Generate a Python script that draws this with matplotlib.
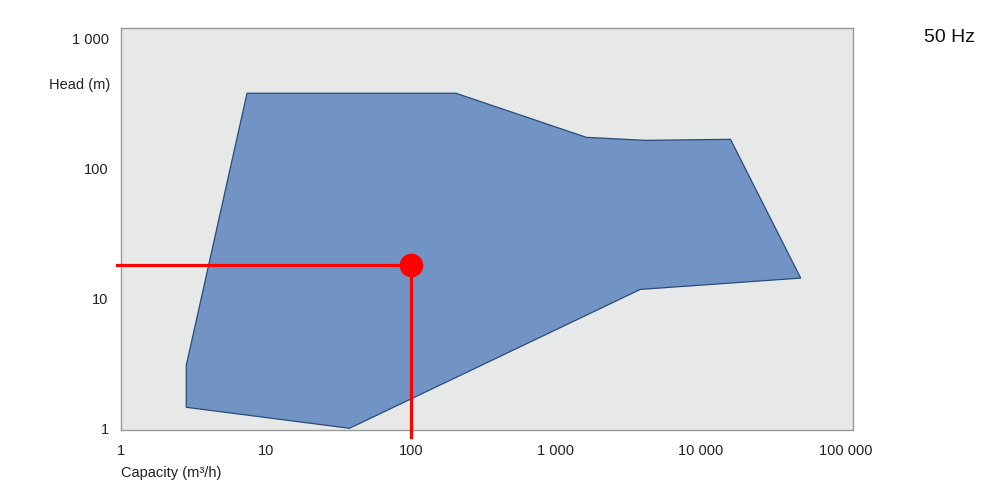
import matplotlib
matplotlib.use("Agg")
import matplotlib.pyplot as plt
from matplotlib.ticker import FixedLocator, NullLocator

# pump range envelope (capacity m3/h, head m)
cap = [7.4, 204, 1620, 4140, 16000, 48800, 3820, 37.7, 2.82, 2.82]
head = [378, 378, 173, 164, 167, 14.3, 11.7, 1.0, 1.45, 3.05]

# duty point
duty_q = 100
duty_h = 18

xticks = [1, 10, 100, 1000, 10000, 100000]
xlabels = ["1", "10", "100", "1 000", "10 000", "100 000"]
yticks = [1, 10, 100, 1000]
ylabels = ["1", "10", "100", "1 000"]

plt.rcParams['font.family'] = ['Liberation Sans', 'DejaVu Sans']

fig = plt.figure(figsize=(9.82, 4.95), dpi=100)
ax = fig.add_axes([121/982, 1-430/495, (853-121)/982, (430-28)/495])
ax.set_facecolor('#e7e8e8')

ax.set_xscale('log')
ax.set_yscale('log')
ax.set_xlim(1, 1.12e5)
ax.set_ylim(0.97, 1200)

ax.fill(cap, head, facecolor='#7194c4', edgecolor='#2a4a7a', linewidth=0.9, zorder=2)

# red duty lines + dot
ax.plot([0.94, duty_q], [duty_h, duty_h], color='#ff0000', lw=2.3, clip_on=False, zorder=3)
ax.plot([duty_q, duty_q], [duty_h, 0.86], color='#ff0000', lw=2.3, clip_on=False, zorder=3)
ax.plot([duty_q], [duty_h], 'o', color='#ff0000', markersize=16, zorder=4)

ax.xaxis.set_major_locator(FixedLocator(xticks))
ax.xaxis.set_minor_locator(NullLocator())
ax.set_xticklabels(xlabels)
ax.yaxis.set_major_locator(FixedLocator(yticks))
ax.yaxis.set_minor_locator(NullLocator())
ax.set_yticklabels(ylabels)
ax.tick_params(length=0, labelsize=10.5, labelcolor='#222222')
ax.tick_params(axis='x', pad=10)
ax.tick_params(axis='y', pad=9)

for s in ax.spines.values():
    s.set_color('#999999')
    s.set_linewidth(1.0)

fig.text(110/982, 1-85/495, 'Head (m)', ha='right', va='center', fontsize=10.5, color='#222222')
fig.text(121/982, 1-473/495, 'Capacity (m³/h)', ha='left', va='center', fontsize=10.5, color='#222222')
fig.text(975/982, 1-37/495, '50 Hz', ha='right', va='center', fontsize=14, color='#111111')

plt.savefig('out.png', dpi=100)
